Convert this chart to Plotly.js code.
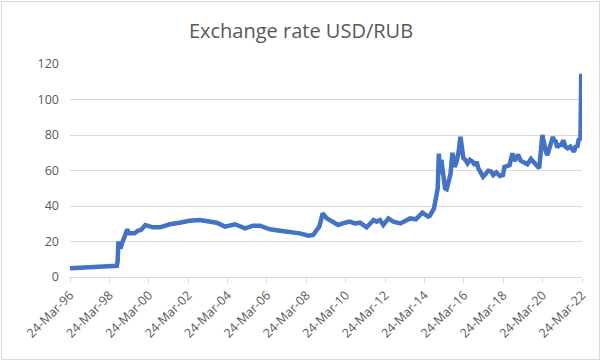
<!DOCTYPE html>
<html>
<head>
<meta charset="utf-8">
<script src="https://cdn.plot.ly/plotly-3.0.1.min.js"></script>
<style>
  html, body { margin: 0; padding: 0; background: #fff; }
  #wrap { position: relative; width: 602px; height: 362px; }
  #chart { width: 602px; height: 362px; }
  #frame { position: absolute; left: 1px; top: 1px; width: 597px; height: 357px;
           border: 1px solid #d9d9d9; pointer-events: none; }
</style>
</head>
<body>
<div id="wrap"><div id="chart"></div><div id="frame"></div></div>
<script>
const dates = [
  "1996-03-24","1996-09-01","1997-03-01","1997-09-01","1998-03-01","1998-08-10","1998-08-25",
  "1998-09-08","1998-09-25","1998-10-15","1998-11-20","1998-12-20","1999-01-20","1999-02-05",
  "1999-02-20","1999-03-20","1999-05-01","1999-07-01","1999-09-10","1999-11-01","2000-01-20",
  "2000-06-10","2000-10-20","2001-04-15","2001-10-15","2002-04-15","2002-10-25","2003-03-01",
  "2003-09-05","2004-02-05","2004-05-01","2004-08-10","2005-02-10","2005-07-10","2005-11-15",
  "2006-05-20","2006-11-20","2007-05-25","2007-11-25","2008-05-01","2008-07-30","2008-11-20",
  "2009-01-22","2009-04-05","2009-07-05","2009-11-05","2010-03-10","2010-06-10","2010-09-10",
  "2010-12-15","2011-04-15","2011-08-25","2011-10-20","2011-12-20","2012-02-20","2012-05-25",
  "2012-08-25","2013-01-01","2013-07-01","2013-10-15","2014-02-15","2014-06-01","2014-07-01",
  "2014-09-15","2014-10-20","2014-11-25","2014-12-16","2015-01-05","2015-02-01","2015-03-01",
  "2015-04-10","2015-05-10","2015-06-15","2015-07-20","2015-08-25","2015-09-15","2015-10-05",
  "2015-11-10","2015-12-15","2016-01-21","2016-02-15","2016-03-15","2016-04-20","2016-06-01",
  "2016-07-15","2016-09-01","2016-10-15","2016-11-15","2016-12-20","2017-01-20","2017-03-15",
  "2017-05-01","2017-06-20","2017-08-10","2017-09-20","2017-11-15","2018-01-20","2018-03-20",
  "2018-04-15","2018-06-01","2018-07-20","2018-09-10","2018-10-15","2018-11-15","2018-12-25",
  "2019-02-10","2019-04-20","2019-06-15","2019-08-20","2019-10-01","2019-12-20","2020-01-20",
  "2020-03-19","2020-04-20","2020-05-20","2020-06-20","2020-08-10","2020-09-30","2020-10-20",
  "2020-11-20","2020-12-20","2021-01-20","2021-03-10","2021-04-10","2021-05-20","2021-07-01",
  "2021-08-20","2021-10-25","2021-12-01","2021-12-25","2022-01-25","2022-02-20","2022-02-26",
  "2022-03-05","2022-03-10","2022-03-14","2022-03-18","2022-03-24"
];
const usdRub = [
  4.9,5.3,5.7,5.9,6.1,6.3,9.0,
  19.9,16.2,16.0,19.5,21.8,23.5,25.0,
  26.9,24.6,24.4,24.6,26.1,26.5,29.3,
  28.0,28.0,29.7,30.6,31.7,32.1,31.5,
  30.6,28.4,29.3,29.7,27.4,28.9,28.9,
  26.9,26.1,25.5,24.6,23.3,23.7,28.4,
  35.9,33.1,31.2,29.3,30.6,31.2,30.2,
  30.6,28.0,32.1,31.2,32.1,29.3,33.0,
  31.2,30.2,33.0,32.5,36.2,34.0,34.5,
  38.5,44.0,50.0,69.5,58.0,66.0,60.0,
  50.0,49.5,54.0,58.0,70.0,64.0,62.0,
  65.0,70.0,79.0,72.0,67.0,66.0,64.0,
  66.0,65.0,63.0,65.0,61.0,59.0,56.5,
  58.0,59.9,59.5,57.5,59.0,56.9,57.5,
  62.0,62.5,63.0,69.7,65.5,66.5,69.0,
  65.5,64.5,63.5,66.5,65.0,61.5,61.2,
  80.0,74.0,71.0,68.7,73.5,79.0,77.0,
  76.5,73.0,74.4,74.5,77.0,73.5,72.5,
  73.5,70.6,74.0,73.0,78.0,77.0,83.0,
  105.0,114.5,90.0,80.0,77.0
];
const tickDates = ["1996-03-24","1998-03-24","2000-03-24","2002-03-24","2004-03-24","2006-03-24",
  "2008-03-24","2010-03-24","2012-03-24","2014-03-24","2016-03-24","2018-03-24","2020-03-24","2022-03-24"];
const tickLabels = ["24-Mar-96","24-Mar-98","24-Mar-00","24-Mar-02","24-Mar-04","24-Mar-06",
  "24-Mar-08","24-Mar-10","24-Mar-12","24-Mar-14","24-Mar-16","24-Mar-18","24-Mar-20","24-Mar-22"];
const yTicks = [0,20,40,60,80,100,120];

const font = "Open Sans, Noto Sans, sans-serif";
Plotly.newPlot("chart", [{
  x: dates, y: usdRub, type: "scatter", mode: "lines",
  line: {color: "#4472C4", width: 4.5, shape: "linear"},
  hoverinfo: "skip"
}], {
  width: 602, height: 362,
  margin: {l: 70, r: 20, t: 64, b: 85},
  paper_bgcolor: "#fff", plot_bgcolor: "#fff",
  showlegend: false,
  title: {text: "Exchange rate USD/RUB", x: 0.5, xanchor: "center", y: 0.915, yanchor: "middle",
          font: {family: font, size: 20, color: "#595959"}},
  xaxis: {
    type: "date", range: ["1996-03-24", "2022-03-24"],
    tickmode: "array", tickvals: tickDates, ticktext: tickLabels,
    tickangle: -45, tickfont: {family: font, size: 12.5, color: "#595959"},
    ticks: "outside", ticklen: 5, tickcolor: "#d9d9d9", tickwidth: 1,
    showgrid: false, showline: true, linecolor: "#d9d9d9", linewidth: 1,
    zeroline: false, fixedrange: true
  },
  yaxis: {
    range: [0, 120], tickmode: "array", tickvals: yTicks,
    tickfont: {family: font, size: 12.5, color: "#595959"},
    showgrid: true, gridcolor: "#d9d9d9", gridwidth: 1,
    zeroline: false, showline: false, ticks: "", ticklabelstandoff: 10, fixedrange: true
  }
}, {staticPlot: true, displayModeBar: false});
</script>
</body>
</html>
